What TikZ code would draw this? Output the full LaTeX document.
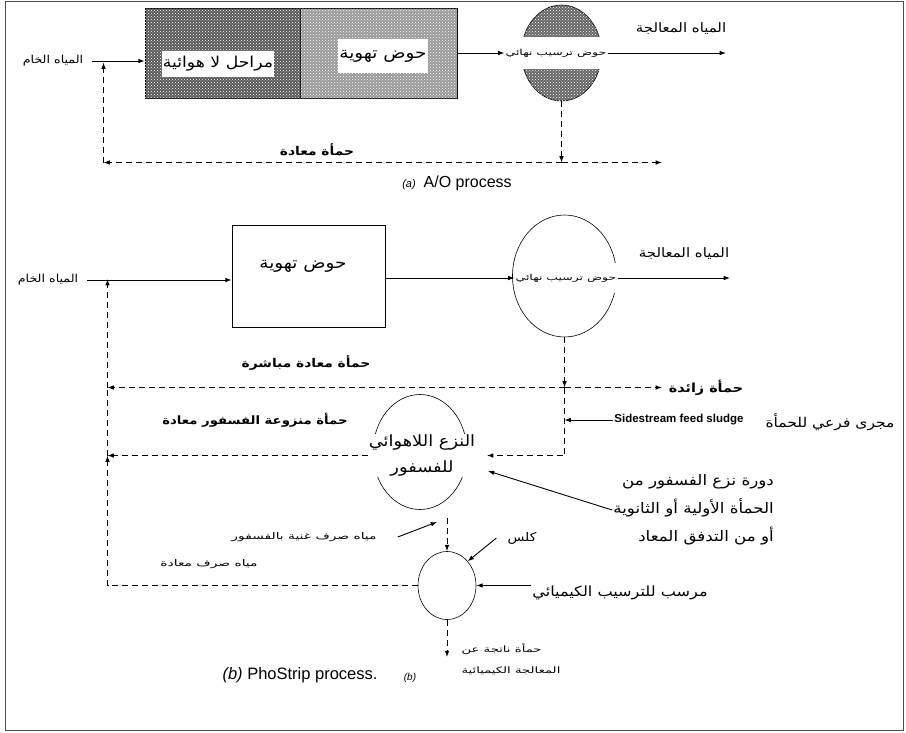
\documentclass[tikz,border=0pt]{standalone}
\usepackage{fontspec}
\setmainfont{Liberation Sans}
\newfontfamily\arabicfont[Script=Arabic,FakeStretch=1.15]{DejaVu Sans}
\newfontfamily\arabicwide[Script=Arabic,FakeStretch=1.5]{DejaVu Sans}
\TeXXeTstate=1
\usetikzlibrary{arrows.meta,shapes.geometric,patterns}
\newcommand{\AR}[1]{{\arabicfont\beginR #1\endR}}
\newcommand{\ARS}[1]{{\arabicwide\beginR #1\endR}}

\begin{document}
\begin{tikzpicture}[x=1pt,y=-1pt,
  lbl/.style={inner sep=1pt,font=\fontsize{13}{17}\selectfont},
  blbl/.style={inner sep=1pt,font=\fontsize{12}{17}\selectfont\bfseries},
  sml/.style={inner sep=1pt,font=\fontsize{9.2}{21}\selectfont},
  tank/.style={draw,line width=0.8pt},
  basin/.style={draw,ellipse,inner sep=0pt,line width=0.6pt},
  speckle/.style={postaction={pattern=crosshatch dots,pattern color=white}},
  ar/.style={-{Latex[length=2.2mm,width=1.6mm]},line width=0.9pt},
  dsh/.style={dash pattern=on 6pt off 4pt,line width=1.2pt}]
\useasboundingbox (0,0) rectangle (906,732);
\draw[black!70,line width=0.8pt] (5,1) rectangle (903,730);
% (a) A/O process
\node[lbl,font=\fontsize{11}{13}\selectfont] (raw1) at (53,61) {\AR{المياه الخام}};
\coordinate (j1) at (103.5,62.5);
\node[tank,fill=black!65,speckle,minimum width=155,minimum height=90] (ana) at (222.5,53) {};
\node[tank,fill=black!40,speckle,minimum width=157,minimum height=90] (aer1) at (378.5,53) {};
\node[lbl,fill=white,minimum height=26,font=\fontsize{15}{17}\selectfont] (ana-t) at (218,64) {\AR{مراحل لا هوائية}};
\node[lbl,fill=white,minimum height=34,font=\fontsize{16}{17}\selectfont] (aer1-t) at (383,56) {\AR{حوض تهوية}};
\node[basin,fill=black!60,speckle,minimum width=80,minimum height=96] (cl1) at (561.5,53) {};
\node[sml,fill=white,minimum height=32,font=\fontsize{8.3}{10}\selectfont] (cl1-t) at (556,53) {\ARS{حوض ترسيب نهائي}};
\coordinate (out1) at (726,53);
\node[lbl] (tw1) at (681,29) {\AR{المياه المعالجة}};
\coordinate (s1) at (561.5,162.5);
\coordinate (was1) at (662,162.5);
\coordinate (k1) at (103.5,162.5);
\draw[ar,shorten <=8pt] (raw1.east) -- (raw1.east -| ana.west);
\draw[ar] (aer1.east) -- (cl1-t.west);
\draw[ar] (cl1-t.east) -- (out1);
\draw[dsh,ar] (cl1.south) -- (s1);
\draw[dsh,ar] (s1) -- (was1);
\draw[dsh,ar] (s1) -- (k1);
\draw[dsh,ar] (k1) -- (j1);
\node[blbl] (ret1) at (317,150) {\AR{حمأة معادة}};
\node[font=\fontsize{16}{18}\selectfont] (cap1) at (457,183) {{\fontsize{11}{13}\selectfont\textit{(a)}}\enspace A/O process};
% (b) PhoStrip process
\node[lbl,font=\fontsize{11}{13}\selectfont] (raw2) at (48,280) {\AR{المياه الخام}};
\coordinate (j2) at (107.5,279);
\node[tank,minimum width=153,minimum height=102] (aer2) at (308.5,276) {};
\node[lbl,font=\fontsize{16}{17}\selectfont] (aer2-t) at (303,266) {\AR{حوض تهوية}};
\node[basin,minimum width=104,minimum height=122] (cl2) at (564.5,276) {};
\node[sml,fill=white,minimum height=30,font=\fontsize{8.3}{10}\selectfont] (cl2-t) at (566,278) {\ARS{حوض ترسيب نهائي}};
\coordinate (out2) at (730,278);
\node[lbl] (tw2) at (684,254) {\AR{المياه المعالجة}};
\draw[ar,shorten <=8pt] (raw2.east) -- (raw2.east -| aer2.west);
\draw[ar] (aer2.east |- cl2-t) -- (cl2-t.west);
\draw[ar] (cl2-t.east) -- (out2);
\coordinate (s2) at (564.5,387.5);
\coordinate (was2) at (662,387.5);
\coordinate (k2) at (107.5,387.5);
\coordinate (k3) at (107.5,455.5);
\coordinate (k4) at (107.5,585.5);
\draw[dsh,ar] (cl2.south) -- (s2);
\draw[dsh,ar] (s2) -- (was2);
\draw[dsh,ar] (s2) -- (k2);
\draw[dsh,ar] (k2) -- (j2);
\draw[dsh] (k3) -- (k2);
\node[blbl,font=\fontsize{12.5}{17}\selectfont\bfseries] (was2-t) at (706,388) {\AR{حمأة زائدة}};
\node[blbl] (ras2) at (306,363) {\AR{حمأة معادة مباشرة}};
% sidestream and stripper
\coordinate (s3) at (564.5,420);
\node[font=\fontsize{11.5}{13}\selectfont\bfseries,inner sep=1pt] (side) at (679,420) {Sidestream feed sludge};
\node[lbl,font=\fontsize{13.5}{17}\selectfont] (side-ar) at (830,422) {\AR{مجرى فرعي للحمأة}};
\draw[ar] (side.west) -- (s3);
\node[basin,minimum width=94,minimum height=115] (str) at (420,452) {};
\node[lbl,fill=white,align=center,font=\fontsize{15.5}{26}\selectfont] (str-t) at (422,455.5) {\AR{النزع اللاهوائي}\\\AR{للفسفور}};
\coordinate (str-in) at (487,455.5);
\coordinate (str-in2) at (488,471);
\draw[dsh,ar] (s2) -- (s2 |- str-in) -- (str-in);
\draw[dsh,ar] (str-t.west) -- (k3);
\node[blbl,font=\fontsize{11.5}{17}\selectfont\bfseries] (dep) at (255,420) {\AR{حمأة منزوعة الفسفور معادة}};
\node[lbl,align=right,anchor=east,font=\fontsize{14.5}{28}\selectfont] (cyc) at (775,510) {\AR{دورة نزع الفسفور من}\\\AR{الحمأة الأولية أو الثانوية}\\\AR{أو من التدفق المعاد}};
\draw[ar] (cyc.west) -- (str-in2);
% chemical precipitation
\node[basin,minimum width=58,minimum height=68] (prec) at (447,585.5) {};
\draw[dsh,ar] ([yshift=-8pt]prec.north |- str.south) -- (prec.north);
\draw[dsh,ar] (prec.west) -- (k4) -- (k3);
\node[sml] (rich) at (304,537) {\ARS{مياه صرف غنية بالفسفور}};
\coordinate (rich-in) at (437,522);
\draw[ar] ([xshift=20pt]rich.east) -- (rich-in);
\node[sml] (ret2) at (209,564) {\ARS{مياه صرف معادة}};
\node[lbl,font=\fontsize{12}{17}\selectfont] (lime) at (522,538) {\AR{كلس}};
\draw[ar] ([xshift=-10pt]lime.west) -- (prec.north east);
\node[lbl,font=\fontsize{14}{17}\selectfont] (chem) at (620,593) {\AR{مرسب للترسيب الكيميائي}};
\draw[ar] (chem.west |- prec.east) -- (prec.east);
\coordinate (sl) at (447,657);
\draw[dsh,ar] (prec.south) -- (sl);
\node[sml,align=left,font=\fontsize{8.8}{21}\selectfont] (sl-t) at (511,659) {\ARS{حمأة ناتجة عن}\\\ARS{المعالجة الكيميائية}};
\node[font=\fontsize{16.5}{19}\selectfont] (cap2) at (300,675) {\textit{(b)} PhoStrip process.};
\node[font=\fontsize{10}{12}\selectfont] (cap3) at (410,678) {\textit{(b)}};
\end{tikzpicture}
\end{document}
